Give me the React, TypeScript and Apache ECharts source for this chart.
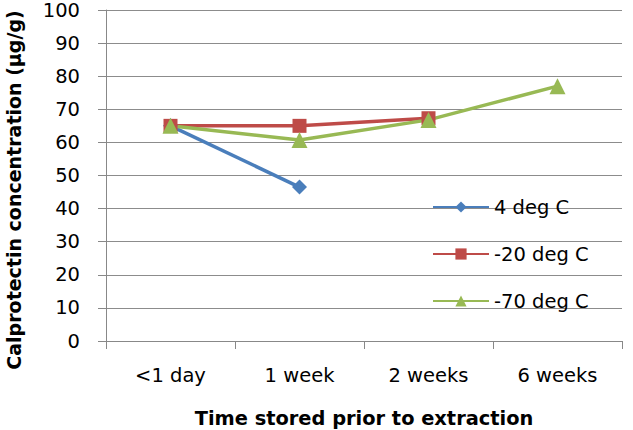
import React, { useEffect, useRef } from "react";
import * as echarts from "echarts";

const categories = ["<1 day", "1 week", "2 weeks", "6 weeks"];
const s4 = [65, 46.5, null, null];
const sMinus20 = [65, 65, 67.3, null];
const sMinus70 = [65, 60.7, 66.8, 77];
const seriesNames = ["4 deg C", "-20 deg C", "-70 deg C"];
const yTitle = "Calprotectin concentration (µg/g)";
const xTitle = "Time stored prior to extraction";

const FONT = "'DejaVu Sans', sans-serif";
const FS = 19.5;

export default function App() {
  const ref = useRef<HTMLDivElement>(null);
  useEffect(() => {
    const chart = echarts.init(ref.current!, null, { renderer: "svg" });
    const mk = (name: string, data: any[], color: string, symbol: string, size: number) => ({
      name,
      type: "line",
      data,
      symbol,
      symbolSize: size,
      lineStyle: { color, width: 3.5 },
      itemStyle: { color },
      connectNulls: false,
    });
    chart.setOption({
      animation: false,
      backgroundColor: "#fff",
      textStyle: { fontFamily: FONT },
      grid: { left: 106, right: 11, top: 10, bottom: 89, containLabel: false, outerBoundsMode: "none" },
      legend: {
        orient: "vertical",
        left: 432,
        top: 197,
        padding: 0,
        itemWidth: 56,
        itemHeight: 14,
        itemGap: 27,
        textStyle: { fontSize: FS, color: "#000", fontFamily: FONT },
        data: seriesNames,
      },
      graphic: [
        {
          type: "text",
          x: 14,
          y: 190,
          rotation: Math.PI / 2,
          style: {
            text: yTitle,
            fontSize: 19,
            fontWeight: "bold",
            fontFamily: FONT,
            fill: "#000",
            align: "center",
            verticalAlign: "middle",
          },
        },
      ],
      xAxis: {
        type: "category",
        data: categories,
        boundaryGap: true,
        axisLine: { lineStyle: { color: "#888", width: 1 } },
        axisTick: { show: true, length: 8, lineStyle: { color: "#888" } },
        axisLabel: { fontSize: FS, color: "#000", margin: 24, fontFamily: FONT },
        name: xTitle,
        nameLocation: "middle",
        nameGap: 68,
        nameTextStyle: { fontSize: 19.4, fontWeight: "bold", color: "#000", fontFamily: FONT },
      },
      yAxis: {
        type: "value",
        min: 0,
        max: 100,
        interval: 10,
        axisLine: { show: true, lineStyle: { color: "#888", width: 1 } },
        axisTick: { show: true, length: 8, lineStyle: { color: "#888" } },
        splitLine: { lineStyle: { color: "#8c8c8c", width: 1 } },
        axisLabel: { fontSize: FS, color: "#000", margin: 26, fontFamily: FONT },
      },
      series: [
        mk(seriesNames[0], s4, "#4a7ebb", "diamond", 15),
        mk(seriesNames[1], sMinus20, "#be4b48", "rect", 14),
        mk(seriesNames[2], sMinus70, "#98b954", "triangle", 16),
      ],
    });
    return () => chart.dispose();
  }, []);
  return <div ref={ref} style={{ width: 633, height: 430, position: "absolute", left: 0, top: 0 }} />;
}
